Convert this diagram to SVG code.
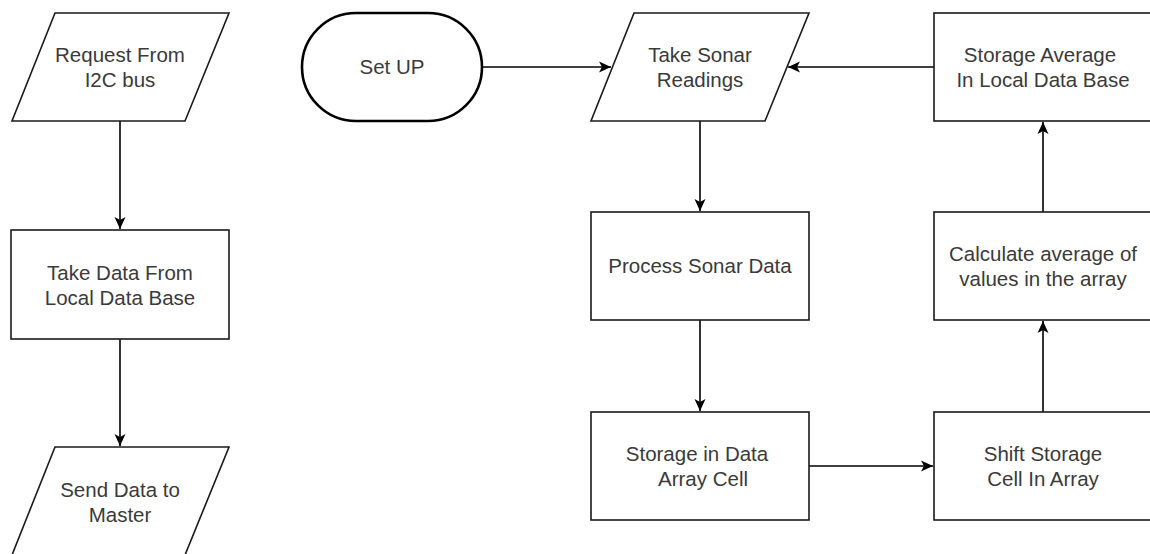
<svg xmlns="http://www.w3.org/2000/svg" width="1150" height="554" viewBox="0 0 1150 554">
  <style>
    .shape { fill: #ffffff; stroke: #1a1a1a; stroke-width: 1.6; }
    .term { fill: #ffffff; stroke: #000000; stroke-width: 2.6; }
    .label { font-family: "Liberation Sans", Arial, sans-serif; font-size: 20.5px; fill: #3a3a3a; text-anchor: middle; }
    .edge { fill: none; stroke: #000000; stroke-width: 1.6; }
  </style>
  <defs>
    <marker id="arrow" viewBox="0 0 12 12" refX="12" refY="6" markerWidth="12" markerHeight="12" markerUnits="userSpaceOnUse" orient="auto">
      <path d="M0,0.5 L12,6 L0,11.5 L3,6 Z" fill="#000000"/>
    </marker>
  </defs>
  <rect width="1150" height="554" fill="#ffffff"/>

  <!-- connectors -->
  <g id="connectors">
    <line class="edge" x1="120" y1="121" x2="120" y2="229" marker-end="url(#arrow)"/>
    <line class="edge" x1="120" y1="339" x2="120" y2="446" marker-end="url(#arrow)"/>
    <line class="edge" x1="482" y1="67" x2="611" y2="67" marker-end="url(#arrow)"/>
    <line class="edge" x1="934" y1="67" x2="788" y2="67" marker-end="url(#arrow)"/>
    <line class="edge" x1="700" y1="121" x2="700" y2="211" marker-end="url(#arrow)"/>
    <line class="edge" x1="700" y1="320" x2="700" y2="411" marker-end="url(#arrow)"/>
    <line class="edge" x1="809" y1="466" x2="933" y2="466" marker-end="url(#arrow)"/>
    <line class="edge" x1="1043" y1="412" x2="1043" y2="321" marker-end="url(#arrow)"/>
    <line class="edge" x1="1043" y1="212" x2="1043" y2="122" marker-end="url(#arrow)"/>
  </g>

  <!-- left flow: I2C request -->
  <g id="request-i2c">
    <polygon class="shape" points="55,13 229,13 185,121 12,121"/>
    <text class="label" x="120" y="62">Request From</text>
    <text class="label" x="120" y="87">I2C bus</text>
  </g>
  <g id="take-data">
    <rect class="shape" x="11" y="230" width="218" height="109"/>
    <text class="label" x="120" y="280">Take Data From</text>
    <text class="label" x="120" y="305">Local Data Base</text>
  </g>
  <g id="send-data">
    <polygon class="shape" points="55,447 229,447 185,555 12,555"/>
    <text class="label" x="120" y="497">Send Data to</text>
    <text class="label" x="120" y="522">Master</text>
  </g>

  <!-- main flow: sonar loop -->
  <g id="setup">
    <rect class="term" x="302" y="13" width="180" height="108" rx="54" ry="54"/>
    <text class="label" x="392" y="74">Set UP</text>
  </g>
  <g id="take-sonar">
    <polygon class="shape" points="634,13 809,13 765,121 591,121"/>
    <text class="label" x="700" y="62">Take Sonar</text>
    <text class="label" x="700" y="87">Readings</text>
  </g>
  <g id="process-sonar">
    <rect class="shape" x="591" y="212" width="218" height="108"/>
    <text class="label" x="700" y="273">Process Sonar Data</text>
  </g>
  <g id="storage-array">
    <rect class="shape" x="591" y="412" width="218" height="108"/>
    <text class="label" x="697" y="461">Storage in Data</text>
    <text class="label" x="703" y="486">Array Cell</text>
  </g>
  <g id="shift-storage">
    <rect class="shape" x="934" y="412" width="218" height="108"/>
    <text class="label" x="1043" y="461">Shift Storage</text>
    <text class="label" x="1043" y="486">Cell In Array</text>
  </g>
  <g id="calc-average">
    <rect class="shape" x="934" y="212" width="218" height="108"/>
    <text class="label" x="1043" y="261">Calculate average of</text>
    <text class="label" x="1043" y="286">values in the array</text>
  </g>
  <g id="storage-average">
    <rect class="shape" x="934" y="13" width="218" height="108"/>
    <text class="label" x="1040" y="62">Storage Average</text>
    <text class="label" x="1043" y="87">In Local Data Base</text>
  </g>
</svg>
